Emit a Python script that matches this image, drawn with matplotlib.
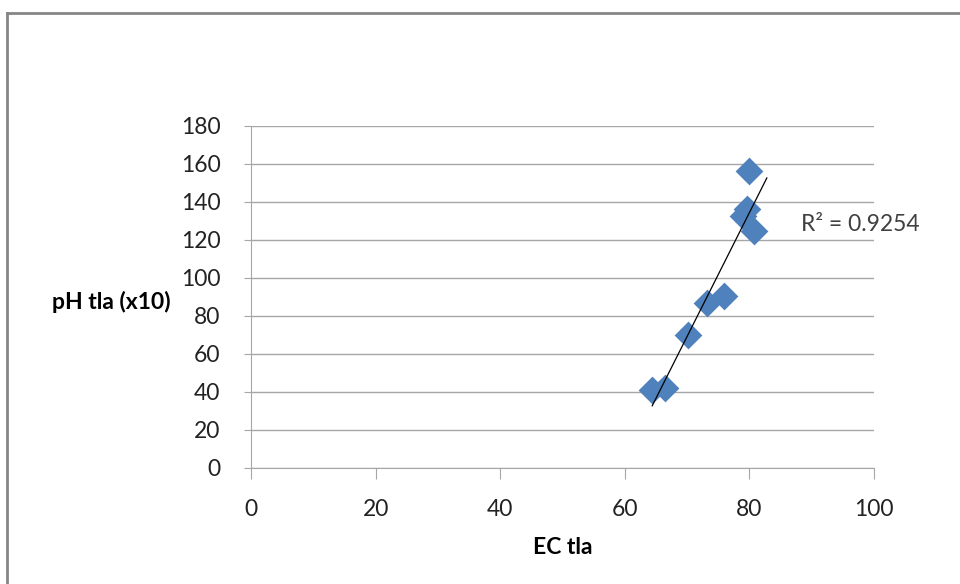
import numpy as np
import matplotlib
matplotlib.use("Agg")
from matplotlib import pyplot as plt
from matplotlib.lines import Line2D

# EC tla vs pH tla (x10)
ec_tla = [64.4, 66.4, 70.2, 73.2, 76.0, 78.9, 79.6, 80.8, 80.0]
ph_tla = [41.0, 42.0, 70.0, 87.0, 90.5, 132.5, 136.5, 124.5, 156.5]
x_ticks = [0, 20, 40, 60, 80, 100]
y_ticks = [0, 20, 40, 60, 80, 100, 120, 140, 160, 180]
forward = 2.0  # trendline forecast

plt.rcParams['font.family'] = ['Lato', 'DejaVu Sans']

fig = plt.figure(figsize=(9.6, 5.84), dpi=100)
ax = fig.add_axes([251/960, 1 - 468/584, 623/960, 342/584])

ax.scatter(ec_tla, ph_tla, marker='D', s=200, color='#4F81BD', zorder=3, linewidths=0)

# linear trendline
k, q = np.polyfit(ec_tla, ph_tla, 1)
xs = np.array([min(ec_tla), max(ec_tla) + forward])
ax.plot(xs, k * xs + q, color='black', lw=0.9, zorder=4)
ax.text(88.3, 128, 'R² = 0.9254', fontsize=16.5, color='#404040', va='center')

ax.set_xlim(0, 100)
ax.set_ylim(0, 180)
ax.set_xticks(x_ticks)
ax.set_yticks(y_ticks)
ax.grid(axis='y', color='#A6A6A6', lw=1)
ax.set_axisbelow(True)
for s in ['top', 'right']:
    ax.spines[s].set_visible(False)
for s in ['left', 'bottom']:
    ax.spines[s].set_color('#A6A6A6')
ax.tick_params(axis='y', colors='#A6A6A6', labelcolor='#222222', labelsize=16.5, length=5, pad=17)
ax.tick_params(axis='x', colors='#A6A6A6', labelcolor='#222222', labelsize=16.5, length=8, pad=14)

fig.text(111/960, 1 - 302/584, 'pH tla (x10)', fontsize=16.5, fontweight='bold', ha='center', va='center')
fig.text(563/960, 1 - 548/584, 'EC tla', fontsize=16.5, fontweight='bold', ha='center', va='center')

# chart frame
fig.add_artist(Line2D([7/960, 1], [1 - 13/584, 1 - 13/584], color='#868686', lw=2, transform=fig.transFigure))
fig.add_artist(Line2D([7/960, 7/960], [0, 1 - 13/584], color='#868686', lw=2, transform=fig.transFigure))

fig.savefig('out.png', dpi=100, facecolor='white')
